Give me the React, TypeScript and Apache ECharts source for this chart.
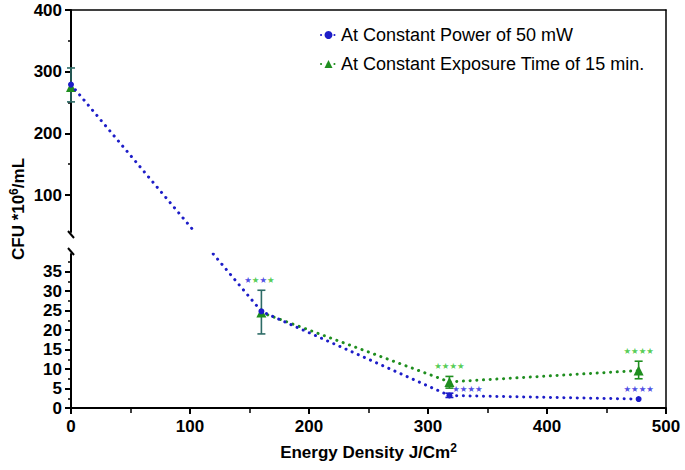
import React, { useEffect, useRef } from 'react';
import * as echarts from 'echarts';

// ---- data ----
const energyDensity = [0, 160, 318, 477];
const constantPower = [279, 24.8, 3.2, 2.3];
const constantTime = [275, 24.5, 6.7, 9.6];
const powerErr: ([number, number] | null)[] = [[251, 306], [19, 30.2], [2.7, 3.8], null];
const timeErr: ([number, number] | null)[] = [[251, 306], [19, 30.2], [5.1, 8.1], [7.5, 12.0]];
const sigPower = ['', '', '****', '****'];
const sigTime = ['', '', '****', '****'];
const sigShared = ['', '****', '', ''];

const xTicks = [0, 100, 200, 300, 400, 500];
const upperTicks = [100, 200, 300, 400];
const upperMinor = [150, 250, 350];
const lowerTicks = [0, 5, 10, 15, 20, 25, 30, 35];
const lowerMinor = [2.5, 7.5, 12.5, 17.5, 22.5, 27.5, 32.5, 37.5];
const upperRange = [40, 400];
const lowerRange = [0, 39.5];

const POWER = 'At Constant Power of 50 mW';
const TIME = 'At Constant Exposure Time of 15 min.';

// ---- style ----
const FONT = '"Liberation Sans", Arial, Helvetica, sans-serif';
const STAR_FONT = '"DejaVu Sans", sans-serif';
const BLUE = '#1d1dc8';
const GREEN = '#1f8e1f';
const TEAL = '#2d6b66';
const STAR_BLUE = '#2020dc';
const STAR_GREEN = '#28c028';
const STAR_SIZE = 8.5;
const L = 71, R = 19, TOP = 10, UPPER_H = 222, LOWER_TOP = 254, BOTTOM = 62;

const dotted = (color: string) => ({ color, width: 3, type: [0.1, 6.6], cap: 'round' });
const labelStyle = { fontFamily: FONT, fontSize: 17, fontWeight: 'bold', color: '#000' };
const axisLineStyle = { color: '#000', width: 2 };
const starText = (s: string) => s.replace(/\*/g, '★');

const inUpper = (v: number) => v >= upperRange[0];
const pts = (vals: number[], upper: boolean) =>
  vals.map((v, i) => [energyDensity[i], v]).filter((p) => inUpper(p[1]) === upper);

const errData = (upper: boolean) => {
  const out: any[] = [];
  energyDensity.forEach((x, i) => {
    const pe = powerErr[i];
    const te = timeErr[i];
    const shared = pe && te && pe[0] === te[0] && pe[1] === te[1];
    const add = (e: [number, number], color: string, mean: number) => {
      if (inUpper(mean) === upper) out.push({ value: [x, e[0], e[1]], itemStyle: { color } });
    };
    if (shared) add(te!, TEAL, constantTime[i]);
    else {
      if (te) add(te, GREEN, constantTime[i]);
      if (pe) add(pe, BLUE, constantPower[i]);
    }
  });
  return out;
};

const renderErr = (params: any, api: any) => {
  const x = api.value(0);
  const top = api.coord([x, api.value(2)]);
  const bot = api.coord([x, api.value(1)]);
  const color = api.visual('color');
  const w = 4;
  const st = { stroke: color, lineWidth: 1.6 };
  return {
    type: 'group',
    children: [
      { type: 'line', shape: { x1: top[0], y1: top[1], x2: bot[0], y2: bot[1] }, style: st },
      { type: 'line', shape: { x1: top[0] - w, y1: top[1], x2: top[0] + w, y2: top[1] }, style: st },
      { type: 'line', shape: { x1: bot[0] - w, y1: bot[1], x2: bot[0] + w, y2: bot[1] }, style: st },
    ],
  };
};

const starData = () => {
  const out: any[] = [];
  const base = { show: true, position: 'inside', fontFamily: STAR_FONT, fontSize: STAR_SIZE };
  const richStar = (color: string) => ({ color, fontSize: STAR_SIZE, fontFamily: STAR_FONT });
  energyDensity.forEach((x, i) => {
    if (sigShared[i]) {
      const top = Math.max(timeErr[i]?.[1] ?? 0, powerErr[i]?.[1] ?? 0);
      const txt = starText(sigShared[i]).split('').map((c, k) => (k % 2 ? `{g|${c}}` : `{b|${c}}`)).join('');
      out.push({
        value: [x, top],
        label: { ...base, formatter: txt, offset: [-2, -10], rich: { b: richStar(STAR_BLUE), g: richStar(STAR_GREEN) } },
      });
    }
    if (sigTime[i]) {
      const top = timeErr[i] ? timeErr[i]![1] : constantTime[i];
      out.push({ value: [x, top], label: { ...base, color: STAR_GREEN, formatter: starText(sigTime[i]), offset: [0, -10] } });
    }
    if (sigPower[i]) {
      const te = timeErr[i];
      const crowded = te && te[0] - constantPower[i] < 3.5;
      out.push({
        value: [x, constantPower[i]],
        label: { ...base, color: STAR_BLUE, formatter: starText(sigPower[i]), offset: crowded ? [18, -7] : [0, -10] },
      });
    }
  });
  return out;
};

function buildOption(): any {
  const yAxisCommon = { type: 'value', splitLine: { show: false }, axisLine: { show: true, onZero: false, lineStyle: axisLineStyle } };
  const supRich = { sup: { fontSize: 12, fontWeight: 'bold', fontFamily: FONT, color: '#000', verticalAlign: 'top', lineHeight: 20 } };
  return {
    animation: false,
    backgroundColor: '#ffffff',
    textStyle: { fontFamily: FONT },
    grid: [
      { left: L, right: R, top: TOP, height: UPPER_H },
      { left: L, right: R, top: LOWER_TOP, bottom: BOTTOM },
      { left: L, right: R, top: TOP, bottom: BOTTOM },
    ],
    legend: {
      orient: 'vertical',
      left: 315,
      top: 21,
      itemWidth: 15,
      itemHeight: 10,
      itemGap: 11,
      data: [POWER, TIME],
      textStyle: { fontFamily: FONT, fontSize: 18, color: '#000' },
    },
    xAxis: [
      {
        gridIndex: 0, type: 'value', min: 0, max: 500, position: 'top',
        axisLine: { show: true, onZero: false, lineStyle: { color: '#000', width: 1.5 } },
        axisTick: { show: false }, axisLabel: { show: false }, splitLine: { show: false },
      },
      {
        gridIndex: 1, type: 'value', min: 0, max: 500, interval: 100,
        axisLine: { show: true, onZero: false, lineStyle: axisLineStyle },
        axisTick: { show: true, length: 6, lineStyle: { color: '#000', width: 2 } },
        minorTick: { show: true, splitNumber: 2, length: 5, lineStyle: { color: '#000', width: 1.5 } },
        axisLabel: { ...labelStyle, margin: 10, formatter: (v: number) => (xTicks.includes(v) ? String(v) : '') },
        splitLine: { show: false }, minorSplitLine: { show: false },
        name: 'Energy Density J/Cm{sup|2}',
        nameLocation: 'middle',
        nameGap: 34,
        nameTextStyle: { ...labelStyle, lineHeight: 20, rich: supRich },
      },
      { gridIndex: 2, type: 'value', min: 0, max: 500, show: false },
    ],
    yAxis: [
      {
        ...yAxisCommon, gridIndex: 0, position: 'left', min: upperRange[0], max: upperRange[1],
        axisTick: { show: true, length: 6, customValues: upperTicks, lineStyle: { color: '#000', width: 2 } },
        axisLabel: { ...labelStyle, margin: 9, customValues: upperTicks },
      },
      {
        ...yAxisCommon, gridIndex: 1, position: 'left', min: lowerRange[0], max: lowerRange[1],
        axisTick: { show: true, length: 6, customValues: lowerTicks, lineStyle: { color: '#000', width: 2 } },
        axisLabel: { ...labelStyle, margin: 9, customValues: lowerTicks },
      },
      {
        gridIndex: 2, type: 'value', position: 'right', min: 0, max: 1,
        axisLine: { show: true, onZero: false, lineStyle: { color: '#000', width: 1.5 } },
        axisTick: { show: false }, axisLabel: { show: false }, splitLine: { show: false },
      },
      {
        gridIndex: 2, type: 'value', position: 'left', min: 0, max: 1,
        axisLine: { show: false }, axisTick: { show: false }, axisLabel: { show: false }, splitLine: { show: false },
        name: 'CFU *10{sup|6}/mL',
        nameLocation: 'middle',
        nameGap: 53,
        nameTextStyle: { ...labelStyle, lineHeight: 20, rich: supRich },
      },
      {
        gridIndex: 0, type: 'value', position: 'left', min: upperRange[0], max: upperRange[1],
        axisLine: { show: false }, axisLabel: { show: false }, splitLine: { show: false },
        axisTick: { show: true, length: 3, customValues: upperMinor, lineStyle: { color: '#000', width: 1.5 } },
      },
      {
        gridIndex: 1, type: 'value', position: 'left', min: lowerRange[0], max: lowerRange[1],
        axisLine: { show: false }, axisLabel: { show: false }, splitLine: { show: false },
        axisTick: { show: true, length: 3, customValues: lowerMinor, lineStyle: { color: '#000', width: 1.5 } },
      },
    ],
    series: [
      {
        id: 'errUpper', type: 'custom', xAxisIndex: 0, yAxisIndex: 0, z: 2,
        renderItem: renderErr, data: errData(true),
      },
      {
        id: 'errLower', type: 'custom', xAxisIndex: 1, yAxisIndex: 1, z: 2,
        renderItem: renderErr, data: errData(false),
      },
      {
        id: 'timeUpper', name: 'timeUpper', type: 'line', xAxisIndex: 0, yAxisIndex: 0, z: 3,
        data: pts(constantTime, true), symbol: 'triangle', symbolSize: 10,
        itemStyle: { color: GREEN }, lineStyle: dotted(GREEN),
      },
      {
        id: 'powerUpper', name: 'powerUpper', type: 'line', xAxisIndex: 0, yAxisIndex: 0, z: 4,
        data: pts(constantPower, true), symbol: 'circle', symbolSize: 6,
        itemStyle: { color: BLUE }, lineStyle: dotted(BLUE),
      },
      {
        id: 'timeLower', name: TIME, type: 'line', xAxisIndex: 1, yAxisIndex: 1, z: 3,
        data: pts(constantTime, false), symbol: 'triangle', symbolSize: 10,
        itemStyle: { color: GREEN }, lineStyle: dotted(GREEN),
      },
      {
        id: 'powerLower', name: POWER, type: 'line', xAxisIndex: 1, yAxisIndex: 1, z: 4,
        data: pts(constantPower, false), symbol: 'circle', symbolSize: 6,
        itemStyle: { color: BLUE }, lineStyle: dotted(BLUE),
      },
      {
        id: 'stars', type: 'scatter', xAxisIndex: 1, yAxisIndex: 1, z: 5,
        symbolSize: 1, itemStyle: { color: 'rgba(0,0,0,0)' },
        data: starData(),
      },
    ],
  };
}

export default function App() {
  const ref = useRef<HTMLDivElement>(null);
  useEffect(() => {
    const chart = echarts.init(ref.current!, null, { renderer: 'svg' });
    chart.setOption(buildOption());

    // straight (pixel-space) connecting segment across the axis break
    const upperPts = energyDensity.map((x, i) => [x, constantPower[i]]).filter((p) => inUpper(p[1]));
    const lowerPts = energyDensity.map((x, i) => [x, constantPower[i]]).filter((p) => !inUpper(p[1]));
    const upFinder = { xAxisIndex: 0, yAxisIndex: 0 };
    const loFinder = { xAxisIndex: 1, yAxisIndex: 1 };
    const a = chart.convertToPixel(upFinder, upperPts[upperPts.length - 1]) as number[];
    const b = chart.convertToPixel(loFinder, lowerPts[0]) as number[];
    const yb = (chart.convertToPixel(upFinder, [0, upperRange[0]]) as number[])[1];
    const yt = (chart.convertToPixel(loFinder, [0, lowerRange[1]]) as number[])[1];
    const ax = (chart.convertToPixel(loFinder, [0, 0]) as number[])[0];
    const xAt = (y: number) => a[0] + ((y - a[1]) / (b[1] - a[1])) * (b[0] - a[0]);
    const dUp = chart.convertFromPixel(upFinder, [xAt(yb), yb]) as number[];
    const dLo = chart.convertFromPixel(loFinder, [xAt(yt), yt]) as number[];

    chart.setOption({
      series: [
        { id: 'powerUpper', data: [...upperPts, { value: [dUp[0], upperRange[0]], symbol: 'none' }] },
        { id: 'powerLower', data: [{ value: [dLo[0], lowerRange[1]], symbol: 'none' }, ...lowerPts] },
      ],
      graphic: [
        { type: 'line', shape: { x1: ax - 3, y1: yb - 1, x2: ax + 3, y2: yb + 6 }, style: { stroke: '#000', lineWidth: 2 } },
        { type: 'line', shape: { x1: ax - 3, y1: yt - 6, x2: ax + 3, y2: yt + 1 }, style: { stroke: '#000', lineWidth: 2 } },
      ],
    });
    return () => chart.dispose();
  }, []);
  return <div ref={ref} style={{ position: 'fixed', left: 0, top: 0, width: 685, height: 470 }} />;
}
